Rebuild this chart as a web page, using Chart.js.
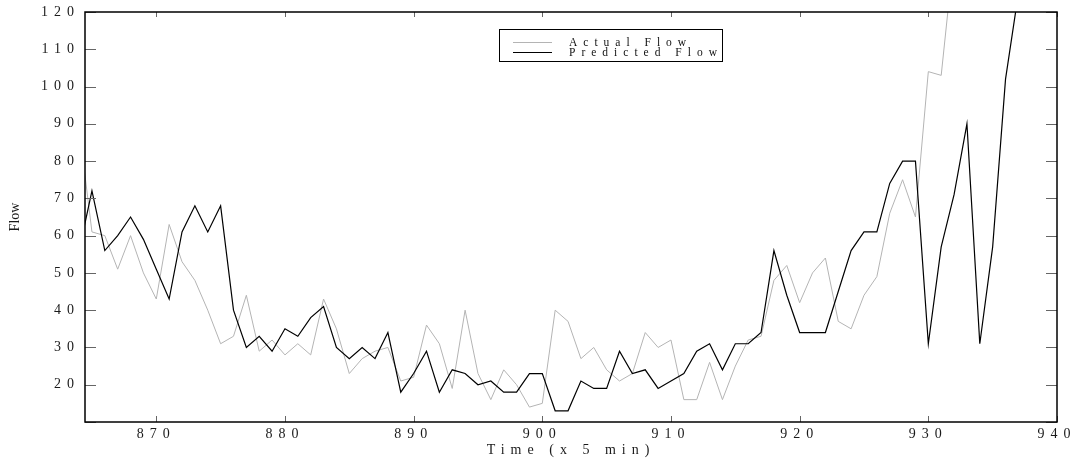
<!DOCTYPE html>
<html>
<head>
<meta charset="UTF-8">
<title>Actual vs Predicted Flow</title>
<script src="https://cdn.jsdelivr.net/npm/chart.js@4.4.0/dist/chart.umd.min.js"></script>
<style>
  body { margin: 0; background: #fff; }
  .chart-container { position: relative; width: 1076px; height: 466px; }
</style>
</head>
<body>
<div class="chart-container">
  <canvas id="chart"></canvas>
</div>

<script>
const timeArray = [864, 865, 866, 867, 868, 869, 870, 871, 872, 873, 874, 875, 876, 877, 878, 879,
  880, 881, 882, 883, 884, 885, 886, 887, 888, 889, 890, 891, 892, 893, 894, 895, 896, 897, 898, 899,
  900, 901, 902, 903, 904, 905, 906, 907, 908, 909, 910, 911, 912, 913, 914, 915, 916, 917, 918, 919,
  920, 921, 922, 923, 924, 925, 926, 927, 928, 929, 930, 931, 932, 933, 934, 935, 936, 937]

const actualFlow = [89, 61, 60, 51, 60, 50, 43, 63, 53, 48, 40, 31, 33, 44, 29, 32,
  28, 31, 28, 43, 35, 23, 27, 29, 30, 21, 22, 36, 31, 19, 40, 23, 16, 24, 20, 14,
  15, 40, 37, 27, 30, 24, 21, 23, 34, 30, 32, 16, 16, 26, 16, 25, 32, 33, 48, 52,
  42, 50, 54, 37, 35, 44, 49, 66, 75, 65, 104, 103, 136, null, null, null, null, null]

const predictedFlow = [56, 72, 56, 60, 65, 59, 51, 43, 61, 68, 61, 68, 40, 30, 33, 29,
  35, 33, 38, 41, 30, 27, 30, 27, 34, 18, 23, 29, 18, 24, 23, 20, 21, 18, 18, 23,
  23, 13, 13, 21, 19, 19, 29, 23, 24, 19, 21, 23, 29, 31, 24, 31, 31, 34, 56, 44,
  34, 34, 34, 45, 56, 61, 61, 74, 80, 80, 31, 57, 71, 90, 31, 57, 102, 125]

const xTicks = [870, 880, 890, 900, 910, 920, 930, 940]
const yTicks = [10, 20, 30, 40, 50, 60, 70, 80, 90, 100, 110, 120]

Chart.defaults.font.family = '"Liberation Serif", "Times New Roman", serif'
Chart.defaults.font.size = 14
Chart.defaults.color = '#1a1a1a'

// the original has wide letter spacing on nearly all of its text
const spacing = '6px'

const framePlugin = {
  id: 'frame',
  beforeUpdate(chart) { chart.ctx.letterSpacing = spacing },
  beforeDraw(chart) { chart.ctx.letterSpacing = spacing },
  afterDraw(chart) {
    const ctx = chart.ctx
    const a = chart.chartArea
    const xs = chart.scales.x, ys = chart.scales.y
    ctx.save()
    // inward tick marks on all four sides
    ctx.strokeStyle = '#666'
    ctx.lineWidth = 1
    ctx.beginPath()
    ys.ticks.forEach(t => {
      const py = Math.round(ys.getPixelForValue(t.value)) + 0.5
      ctx.moveTo(a.left, py); ctx.lineTo(a.left + 11, py)
      ctx.moveTo(a.right, py); ctx.lineTo(a.right - 11, py)
    })
    xs.ticks.forEach(t => {
      const px = Math.round(xs.getPixelForValue(t.value)) + 0.5
      ctx.moveTo(px, a.bottom); ctx.lineTo(px, a.bottom - 6)
      ctx.moveTo(px, a.top); ctx.lineTo(px, a.top + 5)
    })
    ctx.stroke()
    ctx.strokeStyle = '#000'
    ctx.lineWidth = 1.5
    ctx.strokeRect(a.left, a.top, a.right - a.left, a.bottom - a.top)

    // legend box
    ctx.lineWidth = 1
    ctx.strokeRect(499.5, 29.5, 223, 32)
    ctx.font = '11.5px "Liberation Serif", serif'
    ctx.letterSpacing = '6px'
    ctx.textAlign = 'left'
    ctx.textBaseline = 'middle'
    chart.data.datasets.forEach((ds, i) => {
      const ly = 42.5 + i * 10
      ctx.strokeStyle = ds.borderColor
      ctx.lineWidth = ds.borderWidth
      ctx.beginPath()
      ctx.moveTo(513, ly)
      ctx.lineTo(552, ly)
      ctx.stroke()
      ctx.fillStyle = '#111'
      ctx.fillText(ds.label, 569, ly + 0.5)
    })

    // y axis title, drawn without the spacing
    ctx.letterSpacing = '0px'
    ctx.font = '14px "Liberation Serif", serif'
    ctx.fillStyle = '#1a1a1a'
    ctx.textAlign = 'center'
    ctx.translate(15, (a.top + a.bottom) / 2)
    ctx.rotate(-Math.PI / 2)
    ctx.fillText('Flow', 0, 0)
    ctx.restore()
  }
}

const ctx = document.querySelector('#chart').getContext('2d')
const chart = new Chart(ctx, {
  type: 'line',
  data: {
    datasets: [
      {
        label: 'Actual Flow',
        data: timeArray.map((t, i) => ({ x: t, y: actualFlow[i] })),
        borderColor: '#b4b4b4',
        borderWidth: 1,
        pointRadius: 0,
        tension: 0,
        clip: 0,
        order: 1
      },
      {
        label: 'Predicted Flow',
        data: timeArray.map((t, i) => ({ x: t, y: predictedFlow[i] })),
        borderColor: '#000',
        borderWidth: 1.2,
        pointRadius: 0,
        tension: 0,
        clip: 0,
        order: 0
      }
    ]
  },
  options: {
    responsive: true,
    maintainAspectRatio: false,
    animation: false,
    layout: { padding: { left: 0, top: 12, right: 19, bottom: 0 } },
    plugins: {
      legend: { display: false },
      tooltip: { enabled: false }
    },
    scales: {
      x: {
        type: 'linear',
        min: 864.46,
        max: 940,
        grid: { display: false, drawTicks: false },
        border: { display: false },
        afterBuildTicks: scale => { scale.ticks = xTicks.map(v => ({ value: v })) },
        afterFit: scale => {
          scale.height = 44
          scale.paddingLeft = 0
          scale.paddingRight = 0
        },
        ticks: { padding: 4, maxRotation: 0 },
        title: {
          display: true,
          text: 'Time (x 5 min)',
          padding: { top: 0, bottom: 7 }
        }
      },
      y: {
        min: 10,
        max: 120,
        grid: { display: false, drawTicks: false },
        border: { display: false },
        afterBuildTicks: scale => { scale.ticks = yTicks.map(v => ({ value: v })) },
        afterFit: scale => {
          scale.width = 85
          scale.paddingTop = 0
          scale.paddingBottom = 0
        },
        ticks: {
          padding: 5,
          callback: v => v === 10 ? '' : v
        }
      }
    }
  },
  plugins: [framePlugin]
})
</script>
</body>
</html>
